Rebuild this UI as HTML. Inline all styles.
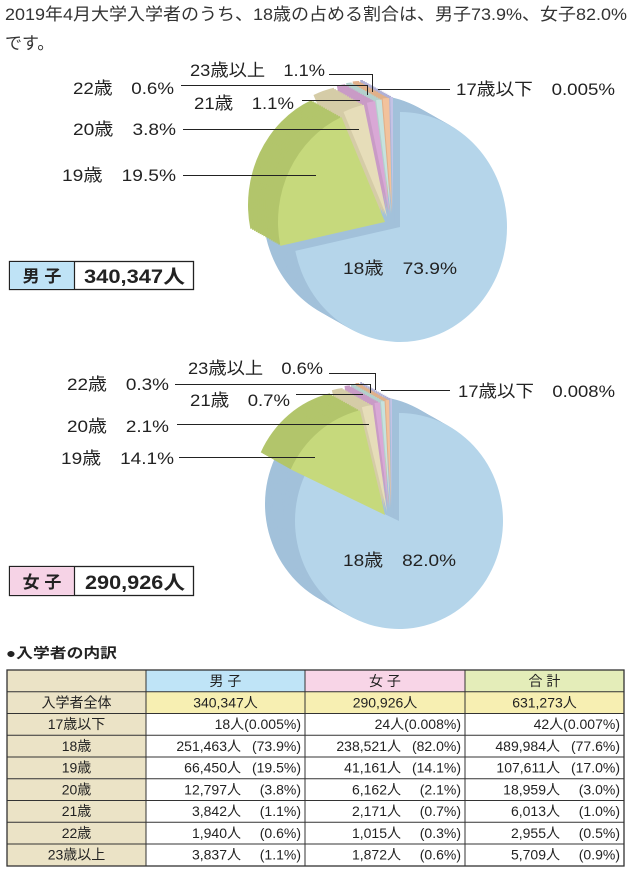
<!DOCTYPE html>
<html><head><meta charset="utf-8"><style>
html,body{margin:0;padding:0;background:#fff;}
svg{display:block;}
text{font-family:"Liberation Sans","Noto Sans CJK JP",sans-serif;fill:#222;}
</style></head><body>
<svg xmlns="http://www.w3.org/2000/svg" width="632" height="873" viewBox="0 0 632 873">
<defs>
<path id="p1b" d="M0,0 L0,-115 A107,115 0 1,1 -104.66,23.91 Z"/>
<path id="p1g" d="M0,0 L-104.66,23.91 A107,115 0 0,1 -43.52,-105.06 Z"/>
<path id="p1e" d="M0,0 L-43.52,-105.06 A107,115 0 0,1 -23.16,-112.27 Z"/>
<path id="p1p" d="M0,0 L-23.16,-112.27 A107,115 0 0,1 -14.89,-113.88 Z"/>
<path id="p1t" d="M0,0 L-14.89,-113.88 A107,115 0 0,1 -9.33,-114.56 Z"/>
<path id="p1o" d="M0,0 L-9.33,-114.56 A107,115 0 0,1 -2.80,-114.96 Z"/>
<path id="p1l" d="M0,0 L-2.80,-114.96 A107,115 0 0,1 0,-115 Z"/>
<path id="p2b" d="M0,0 L0,-108 A104,108 0 1,1 -94.26,-45.64 Z"/>
<path id="p2g" d="M0,0 L-94.26,-45.64 A104,108 0 0,1 -25.16,-104.79 Z"/>
<path id="p2e" d="M0,0 L-25.16,-104.79 A104,108 0 0,1 -14.47,-106.95 Z"/>
<path id="p2p" d="M0,0 L-14.47,-106.95 A104,108 0 0,1 -9.06,-107.59 Z"/>
<path id="p2t" d="M0,0 L-9.06,-107.59 A104,108 0 0,1 -5.44,-107.85 Z"/>
<path id="p2o" d="M0,0 L-5.44,-107.85 A104,108 0 0,1 -1.81,-107.98 Z"/>
<path id="p2l" d="M0,0 L-1.81,-107.98 A104,108 0 0,1 0,-108 Z"/>
<g id="s1">
<use href="#p1b" x="400" y="227" fill="#a2c1da"/>
<use href="#p1g" x="385" y="222" fill="#b2c56b"/>
<use href="#p1e" x="387" y="217" fill="#d5cca7"/>
<use href="#p1p" x="390" y="215" fill="#c99bc6"/>
<use href="#p1t" x="391" y="214" fill="#b3d0cc"/>
<use href="#p1o" x="392" y="213" fill="#e0b08a"/>
<use href="#p1l" x="393" y="212" fill="#b0b0d6"/>
</g>
<g id="f1">
<use href="#p1b" x="400" y="227" fill="#b5d5ea"/>
<use href="#p1g" x="385" y="222" fill="#c6d97c"/>
<use href="#p1e" x="387" y="217" fill="#e6ddb9"/>
<use href="#p1p" x="390" y="215" fill="#d9a8d6"/>
<use href="#p1t" x="391" y="214" fill="#c6e2de"/>
<use href="#p1o" x="392" y="213" fill="#f2c29c"/>
<use href="#p1l" x="393" y="212" fill="#c3c3e6"/>
</g>
<g id="s2">
<use href="#p2b" x="399" y="521" fill="#a2c1da"/>
<use href="#p2g" x="385" y="515" fill="#b2c56b"/>
<use href="#p2e" x="387" y="512" fill="#d5cca7"/>
<use href="#p2p" x="389" y="510" fill="#c99bc6"/>
<use href="#p2t" x="390" y="509" fill="#b3d0cc"/>
<use href="#p2o" x="391" y="508" fill="#e0b08a"/>
<use href="#p2l" x="392" y="507" fill="#b0b0d6"/>
</g>
<g id="f2">
<use href="#p2b" x="399" y="521" fill="#b5d5ea"/>
<use href="#p2g" x="385" y="515" fill="#c6d97c"/>
<use href="#p2e" x="387" y="512" fill="#e6ddb9"/>
<use href="#p2p" x="389" y="510" fill="#d9a8d6"/>
<use href="#p2t" x="390" y="509" fill="#c6e2de"/>
<use href="#p2o" x="391" y="508" fill="#f2c29c"/>
<use href="#p2l" x="392" y="507" fill="#c3c3e6"/>
</g>
</defs>

<!-- Title -->
<text x="5" y="20" font-size="17" textLength="622" lengthAdjust="spacingAndGlyphs" style="fill:#333">2019年4月大学入学者のうち、18歳の占める割合は、男子73.9%、女子82.0%</text>
<text x="5" y="49" font-size="17" style="fill:#333">です。</text>

<!-- Pie 1 sides -->
<use href="#s1" transform="translate(-30,-17)"/>
<use href="#s1" transform="translate(-28.1,-15.9)"/>
<use href="#s1" transform="translate(-26.2,-14.9)"/>
<use href="#s1" transform="translate(-24.4,-13.8)"/>
<use href="#s1" transform="translate(-22.5,-12.7)"/>
<use href="#s1" transform="translate(-20.6,-11.7)"/>
<use href="#s1" transform="translate(-18.7,-10.6)"/>
<use href="#s1" transform="translate(-16.9,-9.6)"/>
<use href="#s1" transform="translate(-15,-8.5)"/>
<use href="#s1" transform="translate(-13.1,-7.4)"/>
<use href="#s1" transform="translate(-11.2,-6.4)"/>
<use href="#s1" transform="translate(-9.4,-5.3)"/>
<use href="#s1" transform="translate(-7.5,-4.2)"/>
<use href="#s1" transform="translate(-5.6,-3.2)"/>
<use href="#s1" transform="translate(-3.7,-2.1)"/>
<use href="#s1" transform="translate(-1.9,-1.1)"/>
<use href="#f1"/>

<!-- Pie 2 sides -->
<use href="#s2" transform="translate(-30,-17)"/>
<use href="#s2" transform="translate(-28.1,-15.9)"/>
<use href="#s2" transform="translate(-26.2,-14.9)"/>
<use href="#s2" transform="translate(-24.4,-13.8)"/>
<use href="#s2" transform="translate(-22.5,-12.7)"/>
<use href="#s2" transform="translate(-20.6,-11.7)"/>
<use href="#s2" transform="translate(-18.7,-10.6)"/>
<use href="#s2" transform="translate(-16.9,-9.6)"/>
<use href="#s2" transform="translate(-15,-8.5)"/>
<use href="#s2" transform="translate(-13.1,-7.4)"/>
<use href="#s2" transform="translate(-11.2,-6.4)"/>
<use href="#s2" transform="translate(-9.4,-5.3)"/>
<use href="#s2" transform="translate(-7.5,-4.2)"/>
<use href="#s2" transform="translate(-5.6,-3.2)"/>
<use href="#s2" transform="translate(-3.7,-2.1)"/>
<use href="#s2" transform="translate(-1.9,-1.1)"/>
<use href="#f2"/>

<!-- Pie 1 leader lines -->
<g stroke="#222" stroke-width="1" fill="none">
<polyline points="329,74.5 372.5,74.5 372.5,92"/>
<polyline points="181,85.5 367.5,85.5 367.5,95"/>
<line x1="302" y1="100.5" x2="360" y2="100.5"/>
<line x1="378" y1="89.5" x2="450" y2="89.5"/>
<line x1="183" y1="129.5" x2="359" y2="129.5"/>
<line x1="183" y1="175.5" x2="316" y2="175.5"/>
</g>
<!-- Pie 1 labels -->
<g font-size="17">
<text x="190" y="76" textLength="135" lengthAdjust="spacingAndGlyphs">23歳以上　1.1%</text>
<text x="73" y="94" textLength="101" lengthAdjust="spacingAndGlyphs">22歳　0.6%</text>
<text x="456" y="95" textLength="159" lengthAdjust="spacingAndGlyphs">17歳以下　0.005%</text>
<text x="194" y="109" textLength="100" lengthAdjust="spacingAndGlyphs">21歳　1.1%</text>
<text x="73" y="135" textLength="103" lengthAdjust="spacingAndGlyphs">20歳　3.8%</text>
<text x="62" y="181" textLength="114" lengthAdjust="spacingAndGlyphs">19歳　19.5%</text>
<text x="343" y="274" textLength="114" lengthAdjust="spacingAndGlyphs">18歳　73.9%</text>
</g>

<!-- Pie 2 leader lines -->
<g stroke="#222" stroke-width="1" fill="none">
<polyline points="329,373.5 375.5,373.5 375.5,390"/>
<polyline points="175,384.5 370.5,384.5 370.5,393"/>
<line x1="296" y1="394.5" x2="363" y2="394.5"/>
<line x1="381" y1="390.5" x2="450" y2="390.5"/>
<line x1="177" y1="424.5" x2="369" y2="424.5"/>
<line x1="179" y1="457.5" x2="315" y2="457.5"/>
</g>
<!-- Pie 2 labels -->
<g font-size="17">
<text x="188" y="374" textLength="135" lengthAdjust="spacingAndGlyphs">23歳以上　0.6%</text>
<text x="67" y="390" textLength="102" lengthAdjust="spacingAndGlyphs">22歳　0.3%</text>
<text x="458" y="397" textLength="157" lengthAdjust="spacingAndGlyphs">17歳以下　0.008%</text>
<text x="190" y="406" textLength="100" lengthAdjust="spacingAndGlyphs">21歳　0.7%</text>
<text x="67" y="432" textLength="102" lengthAdjust="spacingAndGlyphs">20歳　2.1%</text>
<text x="61" y="464" textLength="113" lengthAdjust="spacingAndGlyphs">19歳　14.1%</text>
<text x="343" y="566" textLength="113" lengthAdjust="spacingAndGlyphs">18歳　82.0%</text>
</g>

<!-- 男子 box -->
<rect x="9.5" y="261.5" width="184" height="28" fill="#fff" stroke="#222" stroke-width="1.3"/>
<rect x="10" y="262" width="64" height="27" fill="#bfe3f6"/>
<line x1="74.5" y1="261.5" x2="74.5" y2="289.5" stroke="#222" stroke-width="1.2"/>
<text x="42" y="282" font-size="17" font-weight="bold" text-anchor="middle">男 子</text>
<text x="84" y="283" font-size="19" font-weight="bold" textLength="101" lengthAdjust="spacingAndGlyphs">340,347人</text>

<!-- 女子 box -->
<rect x="9.5" y="566.5" width="184" height="29" fill="#fff" stroke="#222" stroke-width="1.3"/>
<rect x="10" y="567" width="64" height="28" fill="#f6d3e6"/>
<line x1="74.5" y1="566.5" x2="74.5" y2="595.5" stroke="#222" stroke-width="1.2"/>
<text x="42" y="588" font-size="17" font-weight="bold" text-anchor="middle">女 子</text>
<text x="85" y="589" font-size="19" font-weight="bold" textLength="100" lengthAdjust="spacingAndGlyphs">290,926人</text>

<!-- Table heading -->
<text x="6" y="658" font-size="14" font-weight="bold" textLength="111" lengthAdjust="spacingAndGlyphs">●入学者の内訳</text>

<!-- Table fills -->
<rect x="7" y="670" width="139" height="196" fill="#ebe3c6"/>
<rect x="146" y="670" width="159" height="21.75" fill="#bfe4f7"/>
<rect x="305" y="670" width="160" height="21.75" fill="#f8d5e7"/>
<rect x="465" y="670" width="159" height="21.75" fill="#e4edb9"/>
<rect x="146" y="691.75" width="478" height="21.75" fill="#f7efb2"/>

<!-- Table grid -->
<g stroke="#333" stroke-width="1" fill="none">
<line x1="7" y1="691.75" x2="624" y2="691.75"/>
<line x1="7" y1="713.5" x2="624" y2="713.5"/>
<line x1="7" y1="735.25" x2="624" y2="735.25"/>
<line x1="7" y1="757" x2="624" y2="757"/>
<line x1="7" y1="778.75" x2="624" y2="778.75"/>
<line x1="7" y1="800.5" x2="624" y2="800.5"/>
<line x1="7" y1="822.25" x2="624" y2="822.25"/>
<line x1="7" y1="844" x2="624" y2="844"/>
<line x1="146" y1="670" x2="146" y2="866"/>
<line x1="305" y1="670" x2="305" y2="866"/>
<line x1="465" y1="670" x2="465" y2="866"/>
<rect x="7" y="670" width="617" height="196" stroke-width="1.3"/>
</g>

<!-- Table text -->
<g font-size="14">
<text x="225.5" y="686" text-anchor="middle">男 子</text>
<text x="385" y="686" text-anchor="middle">女 子</text>
<text x="544.5" y="686" text-anchor="middle">合 計</text>

<g text-anchor="middle">
<text x="76.5" y="707.5">入学者全体</text>
<text x="76.5" y="729.2">17歳以下</text>
<text x="76.5" y="751">18歳</text>
<text x="76.5" y="772.7">19歳</text>
<text x="76.5" y="794.5">20歳</text>
<text x="76.5" y="816.2">21歳</text>
<text x="76.5" y="838">22歳</text>
<text x="76.5" y="859.7">23歳以上</text>
<text x="225.5" y="707.5">340,347人</text>
<text x="385" y="707.5">290,926人</text>
<text x="544.5" y="707.5">631,273人</text>
</g>

<g text-anchor="end">
<text x="301" y="729.2">18人(0.005%)</text>
<text x="461" y="729.2">24人(0.008%)</text>
<text x="620" y="729.2">42人(0.007%)</text>

<text x="241" y="751">251,463人</text><text x="301" y="751">(73.9%)</text>
<text x="401" y="751">238,521人</text><text x="461" y="751">(82.0%)</text>
<text x="560" y="751">489,984人</text><text x="620" y="751">(77.6%)</text>

<text x="241" y="772.7">66,450人</text><text x="301" y="772.7">(19.5%)</text>
<text x="401" y="772.7">41,161人</text><text x="461" y="772.7">(14.1%)</text>
<text x="560" y="772.7">107,611人</text><text x="620" y="772.7">(17.0%)</text>

<text x="241" y="794.5">12,797人</text><text x="301" y="794.5">(3.8%)</text>
<text x="401" y="794.5">6,162人</text><text x="461" y="794.5">(2.1%)</text>
<text x="560" y="794.5">18,959人</text><text x="620" y="794.5">(3.0%)</text>

<text x="241" y="816.2">3,842人</text><text x="301" y="816.2">(1.1%)</text>
<text x="401" y="816.2">2,171人</text><text x="461" y="816.2">(0.7%)</text>
<text x="560" y="816.2">6,013人</text><text x="620" y="816.2">(1.0%)</text>

<text x="241" y="838">1,940人</text><text x="301" y="838">(0.6%)</text>
<text x="401" y="838">1,015人</text><text x="461" y="838">(0.3%)</text>
<text x="560" y="838">2,955人</text><text x="620" y="838">(0.5%)</text>

<text x="241" y="859.7">3,837人</text><text x="301" y="859.7">(1.1%)</text>
<text x="401" y="859.7">1,872人</text><text x="461" y="859.7">(0.6%)</text>
<text x="560" y="859.7">5,709人</text><text x="620" y="859.7">(0.9%)</text>
</g>
</g>
</svg>
</body></html>
